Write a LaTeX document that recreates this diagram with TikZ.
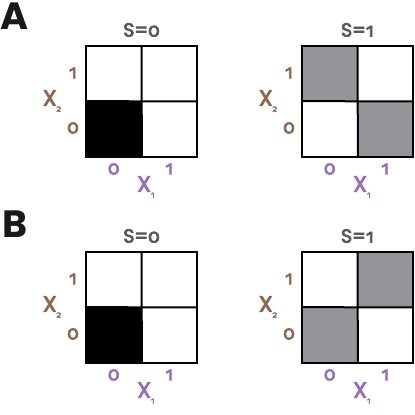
\documentclass[tikz,border=0pt]{standalone}
\usepackage{fontspec}
\setmainfont{Fira Sans}[Numbers=OldStyle,FakeBold=3.5]
\newfontfamily\geo{Poppins}[FakeBold=4]
\newfontfamily\geobig{Poppins}
\definecolor{titlegray}{RGB}{88,89,91}
\definecolor{xtwo}{RGB}{140,105,80}
\definecolor{xone}{RGB}{152,112,182}
\definecolor{cellgray}{RGB}{147,149,152}
\tikzset{
  cell/.style={minimum size=55.5pt,inner sep=0pt,anchor=south west,fill=#1},
  gridline/.style={line width=2pt,draw=black},
  titletxt/.style={text=titlegray,font=\fontsize{19}{19}\selectfont,inner sep=0pt},
  xtwotxt/.style={text=xtwo,font=\fontsize{19}{19}\selectfont,inner sep=0pt},
  xonetxt/.style={text=xone,font=\fontsize{19}{19}\selectfont,inner sep=0pt},
  panelletter/.style={font=\geobig\fontsize{38}{38}\selectfont\bfseries,text=black!90,inner sep=0pt,anchor=north west}
}
\newcommand\mypanel[8]{%
  \begin{scope}[shift={(#2,#3)}]
    \node[cell=#4] (#1-00) at (0,0) {};
    \node[cell=#5] (#1-10) at (55.5,0) {};
    \node[cell=#6] (#1-01) at (0,55.5) {};
    \node[cell=#7] (#1-11) at (55.5,55.5) {};
    \draw[gridline] (#1-00.south west) rectangle (#1-11.north east);
    \draw[gridline] (#1-00.south east) -- (#1-11.north west);
    \draw[gridline] (#1-00.north west) -- (#1-11.south east);
    \node[titletxt] (#1-title) at (55.5,127) {{\geo\fontsize{19}{19}\selectfont S=}#8};
    \node[xtwotxt] (#1-y1) at (-13,84) {1};
    \node[xtwotxt] (#1-y0) at (-13,29) {0};
    \node[xtwotxt] (#1-ylab) at (-34,56) {{\geo\fontsize{22}{22}\selectfont X}\raisebox{-6pt}{\fontsize{9}{9}\selectfont 2}};
    \node[xonetxt] (#1-x0) at (27.75,-12) {0};
    \node[xonetxt] (#1-x1) at (83.25,-12) {1};
    \node[xonetxt] (#1-xlab) at (60,-30) {{\geo\fontsize{22}{22}\selectfont X}\raisebox{-6pt}{\fontsize{9}{9}\selectfont 1}};
  \end{scope}}
\begin{document}
\begin{tikzpicture}[x=1pt,y=1pt]
\useasboundingbox (0,0) rectangle (415,415);
\fill[white] (0,0) rectangle (415,415);
\node[panelletter] (A) at (0,412) {A};
\node[panelletter] (B) at (2,204) {B};
\mypanel{a0}{86}{258}{black}{white}{white}{white}{0}
\mypanel{a1}{302}{258}{white}{cellgray}{cellgray}{white}{1}
\mypanel{b0}{86}{52}{black}{white}{white}{white}{0}
\mypanel{b1}{302}{52}{cellgray}{white}{white}{cellgray}{1}
\end{tikzpicture}
\end{document}
